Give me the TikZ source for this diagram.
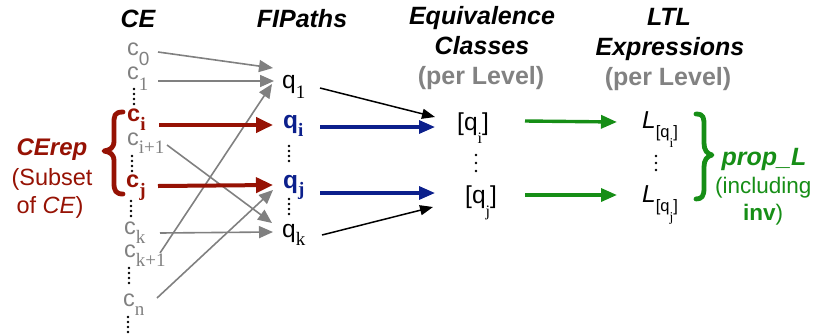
\documentclass[tikz,border=0pt]{standalone}
\usepackage{fontspec}
\setmainfont{Liberation Sans}
\newfontfamily\subserif{Liberation Serif}
\usetikzlibrary{arrows.meta}

\definecolor{repred}{RGB}{150,18,4}
\definecolor{pathblue}{RGB}{12,32,140}
\definecolor{propgreen}{RGB}{22,142,22}
\definecolor{edgegray}{RGB}{128,128,128}
\definecolor{levelgray}{RGB}{130,130,130}

% lowered serif subscript: #1 = drop in pt, #2 = text
\newcommand\lowsub[2]{\raisebox{-#1pt}{\subserif\fontsize{19}{19}\selectfont #2}}
\newcommand\lowsubbf[2]{\raisebox{-#1pt}{\subserif\bfseries\fontsize{19}{19}\selectfont #2}}
% equivalence class [q_x]
\newcommand\eqcls[1]{[q\raisebox{-13pt}{\subserif\fontsize{16}{16}\selectfont #1}]}
% LTL expression L_[q_x]
\newcommand\ltlexpr[1]{\textit{L}\raisebox{-9pt}{\fontsize{16.5}{16.5}\selectfont[q\raisebox{-10pt}{\subserif\fontsize{13.5}{13.5}\selectfont #1}]}}

\tikzset{
  header/.style={inner sep=0, anchor=base, font=\fontsize{25}{30}\selectfont\bfseries\itshape},
  level/.style={inner sep=0, anchor=base, text=levelgray, font=\fontsize{25}{30}\selectfont\bfseries},
  celem/.style={inner sep=0, anchor=base west, text=edgegray, font=\fontsize{23.5}{27}\selectfont},
  crep/.style={celem, text=repred, font=\fontsize{23.5}{27}\selectfont\bfseries},
  qelem/.style={inner sep=0, anchor=base west, font=\fontsize{24.5}{28}\selectfont},
  qrep/.style={qelem, text=pathblue, font=\fontsize{24.5}{28}\selectfont\bfseries},
  sidetext/.style={inner sep=0, anchor=base, font=\fontsize{23.5}{28}\selectfont},
  grayedge/.style={draw=edgegray, line width=1.6pt, -{Triangle[length=14pt,width=12pt]}},
  blackedge/.style={draw=black, line width=1.5pt, -{Triangle[length=13pt,width=10pt]}},
  rededge/.style={draw=repred, line width=4pt, -{Triangle[length=17pt,width=15pt]}},
  blueedge/.style={draw=pathblue, line width=3.2pt, -{Triangle[length=16pt,width=13pt]}},
  greenedge/.style={draw=propgreen, line width=3.4pt, -{Triangle[length=16pt,width=13pt]}},
  vdots/.style={line width=2.6pt, line cap=round, dash pattern=on 0pt off 5pt},
  bracestroke/.style={line width=4.8pt, line cap=round, line join=round}
}

\begin{document}
\begin{tikzpicture}[x=1pt,y=-1pt]
\useasboundingbox (0,0) rectangle (815,333);

% column headers
\node[header] (hCE) at (138,27) {CE};
\node[header] (hFI) at (302,27) {FIPaths};
\node[header] (hEqA) at (482,24) {Equivalence};
\node[header] (hEqB) at (482,54) {Classes};
\node[level]  (hEqC) at (481,84) {(per Level)};
\node[header] (hLA) at (669,25) {LTL};
\node[header] (hLB) at (670,55) {Expressions};
\node[level]  (hLC) at (668,85) {(per Level)};

% counterexamples
\node[celem] (c0)  at (127,55)  {c\raisebox{-10pt}{\fontsize{19}{19}\selectfont 0}};
\node[celem] (c1)  at (127,79)  {c\lowsub{11}{1}};
\node[crep]  (ci)  at (127,121) {c\lowsubbf{9}{i}};
\node[celem] (cii) at (127,145) {c\lowsub{8}{i+1}};
\node[crep]  (cj)  at (126,187) {c\lowsubbf{9}{j}};
\node[celem] (ck)  at (124,234) {c\lowsub{9}{k}};
\node[celem] (ckk) at (124,257) {c\lowsub{9}{k+1}};
\node[celem] (cn)  at (123,306) {c\lowsub{9}{n}};

\draw[vdots, black] (134,89) -- (134,104);
\draw[vdots, black] (132,156) -- (132,171);
\draw[vdots, black] (131,201) -- (131,216);
\draw[vdots, black] (129,268) -- (129,283);
\draw[vdots, black] (128,317) -- (128,333);

% paths
\node[qelem] (q1) at (282,88)  {q\lowsub{10}{1}};
\node[qrep]  (qi) at (283,128) {q\lowsubbf{8}{i}};
\node[qrep]  (qj) at (283,188) {q\lowsubbf{7}{j}};
\node[qelem] (qk) at (282,237) {q\lowsub{8}{k}};

\draw[vdots, black] (289,146) -- (289,161);
\draw[vdots, black] (289,199) -- (289,214);

% equivalence classes
\node[qelem] (eqi) at (457,130) {\eqcls{i}};
\node[qelem] (eqj) at (465,203) {\eqcls{j}};
\draw[vdots, black, dash pattern=on 0pt off 8pt] (476,155) -- (476,171);

% LTL expressions
\node[qelem] (Li) at (642,128) {\ltlexpr{i}};
\node[qelem] (Lj) at (642,202) {\ltlexpr{j}};
\draw[vdots, black, dash pattern=on 0pt off 7pt] (656,156) -- (656,170);

% counterexamples to paths
\draw[grayedge] ([xshift=31pt,yshift=3pt]c0.base west) -- ([xshift=-9pt,yshift=20pt]q1.base west);
\draw[grayedge] ([xshift=31pt,yshift=-2pt]c1.base west) -- ([xshift=-8pt,yshift=7pt]q1.base west);
\draw[grayedge] ([xshift=36pt,yshift=4pt]ckk.base west) -- ([xshift=-10pt,yshift=4pt]q1.base west);
\draw[grayedge] ([xshift=40pt,yshift=0pt]cii.base west) -- ([xshift=-10pt,yshift=14pt]qk.base west);
\draw[grayedge] ([xshift=36pt,yshift=1pt]ck.base west) -- ([xshift=-9pt,yshift=5pt]qk.base west);
\draw[grayedge] ([xshift=34pt,yshift=8pt]cn.base west) -- ([xshift=-10pt,yshift=-2pt]qj.base west);
\draw[rededge] ([xshift=32pt,yshift=-4pt]ci.base west) -- ([xshift=-10pt,yshift=3pt]qi.base west);
\draw[rededge] ([xshift=32pt,yshift=1pt]cj.base west) -- ([xshift=-10pt,yshift=3pt]qj.base west);

% paths to equivalence classes
\draw[blackedge] ([xshift=38pt,yshift=0pt]q1.base west) -- ([xshift=-22pt,yshift=13pt]eqi.base west);
\draw[blackedge] ([xshift=40pt,yshift=2pt]qk.base west) -- ([xshift=-32pt,yshift=-4pt]eqj.base west);
\draw[blueedge] ([xshift=37pt,yshift=1pt]qi.base west) -- ([xshift=-22pt,yshift=3pt]eqi.base west);
\draw[blueedge] ([xshift=37pt,yshift=-5pt]qj.base west) -- ([xshift=-30pt,yshift=10pt]eqj.base west);

% classes to LTL expressions
\draw[greenedge] ([xshift=68pt,yshift=9pt]eqi.base west) -- ([xshift=-25pt,yshift=6pt]Li.base west);
\draw[greenedge] ([xshift=60pt,yshift=8pt]eqj.base west) -- ([xshift=-25pt,yshift=7pt]Lj.base west);

% representative subset on the left
\draw[repred, bracestroke] (123,112) .. controls (114,112) and (114,116) .. (114,124)
  -- (114,141) .. controls (114,148) and (110,150) .. (104,151)
  .. controls (110,152) and (114,154) .. (114,161)
  -- (114,183) .. controls (114,191) and (116,194) .. (123,194);
\node[sidetext, text=repred, font=\fontsize{24}{28}\selectfont\bfseries\itshape] (repA) at (52,155) {CErep};
\node[sidetext, text=repred] (repB) at (52,185) {(Subset};
\node[sidetext, text=repred] (repC) at (50,213) {of \textit{CE})};

% property set on the right
\draw[propgreen, bracestroke] (696,114) .. controls (704,114) and (704,118) .. (704,126)
  -- (704,143) .. controls (704,150) and (707,154) .. (712,155)
  .. controls (707,156) and (704,160) .. (704,167)
  -- (704,188) .. controls (704,196) and (702,199) .. (696,199);
\node[sidetext, text=propgreen, font=\fontsize{25}{29}\selectfont\bfseries\itshape] (propA) at (764,165) {prop\_L};
\node[sidetext, text=propgreen, anchor=base west, font=\fontsize{22.5}{27}\selectfont] (propB) at (715,193) {(including};
\node[sidetext, text=propgreen, font=\fontsize{22.5}{27}\selectfont] (propC) at (763,220) {\textbf{inv})};
\end{tikzpicture}
\end{document}
